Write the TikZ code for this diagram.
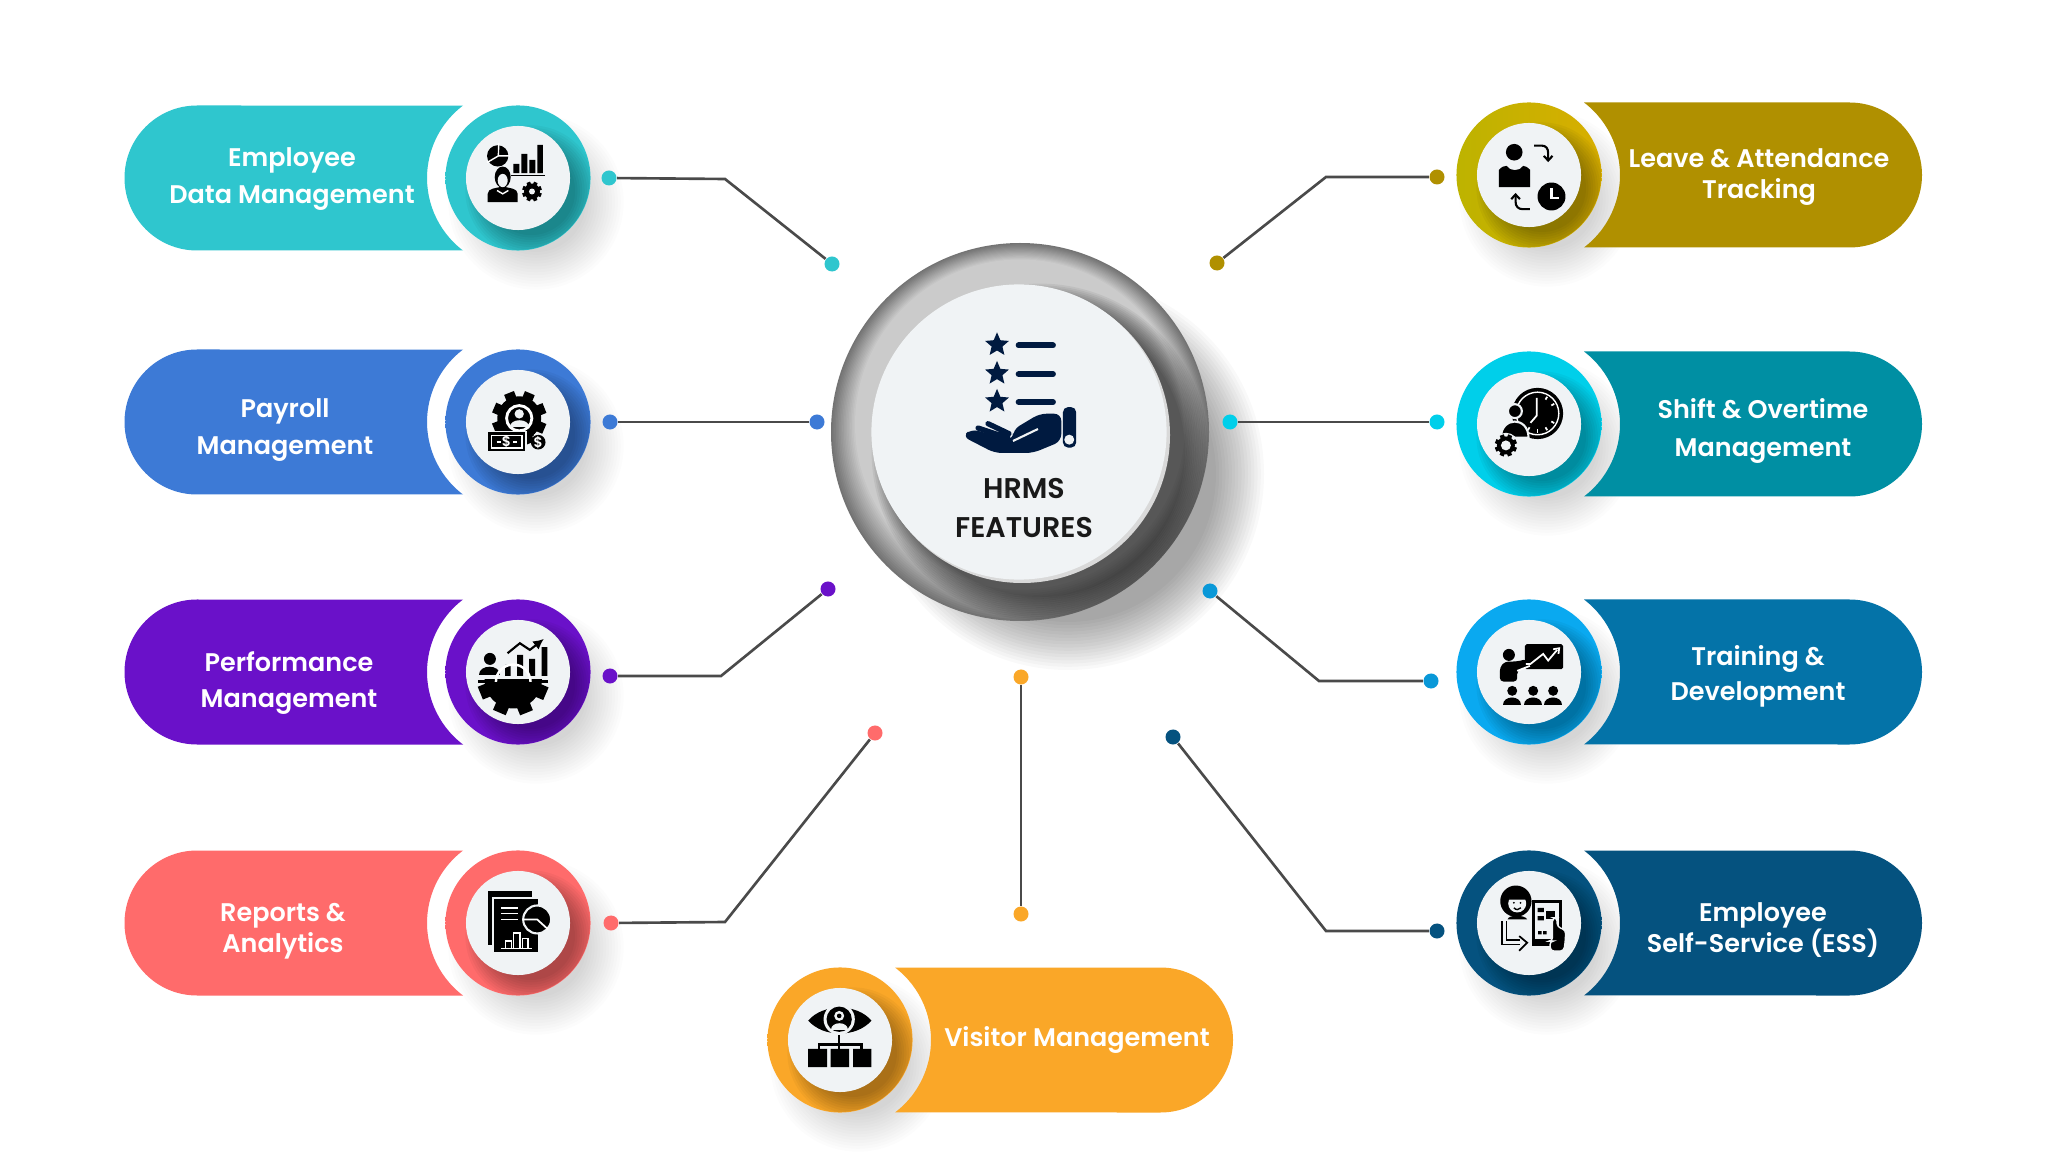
\documentclass[tikz,border=0pt]{standalone}
\usepackage{fontspec}
\setmainfont{Poppins SemiBold}
\usetikzlibrary{shapes.geometric,arrows.meta}
\definecolor{cteal}{HTML}{2FC6CE}
\definecolor{cblue}{HTML}{3D7AD6}
\definecolor{cpurple}{HTML}{6A11C9}
\definecolor{ccoral}{HTML}{FF6B6B}
\definecolor{corange}{HTML}{FAA728}
\definecolor{cgold}{HTML}{B09000}
\definecolor{cgolda}{HTML}{BDB300}
\definecolor{cgoldb}{HTML}{D8AE00}
\definecolor{cshift}{HTML}{008FA3}
\definecolor{ccyan}{HTML}{00CFEA}
\definecolor{ctrain}{HTML}{0473A8}
\definecolor{csky}{HTML}{0AA9F0}
\definecolor{cess}{HTML}{05527F}
\definecolor{cpaper}{HTML}{F0F3F5}
\definecolor{cnavy}{HTML}{001A40}
\definecolor{cwire}{HTML}{4A4A4A}
\newcommand{\gearfill}[3]{\fill (#1,#2) circle (#3);
 \foreach \a in {0,45,...,315} {\fill[rotate around={\a+22:(#1,#2)}] (#1+.9*#3,#2-.24*#3) rectangle (#1+1.24*#3,#2+.24*#3);}}
\newcommand{\person}[3]{\fill (#1,#2) circle (#3);
 \fill (#1-1.75*#3,#2+2.75*#3) .. controls (#1-1.75*#3,#2+.9*#3) and (#1+1.75*#3,#2+.9*#3) .. (#1+1.75*#3,#2+2.75*#3) -- cycle;}
\begin{document}
\begin{tikzpicture}[x=0.01cm,y=-0.01cm]
 \tikzstyle{ring}=[circle, minimum size=1.45cm, inner sep=0pt]
 \tikzstyle{disc}=[circle, fill=cpaper, minimum size=1.04cm, inner sep=0pt]
 \tikzstyle{bullet}=[circle, minimum size=0.15cm, inner sep=0pt]
 \tikzstyle{link}=[cwire, line width=0.75pt]
 \tikzstyle{caption}=[text=white, align=center, font=\fontsize{7.25}{8.8}\selectfont]
 \tikzstyle{zoomed}=[x=0.003333cm,y=-0.003333cm]
 \tikzstyle{cut}=[white, line width=0.4pt]
 %
 \fill[white] (0,0) rectangle (2048,1152);
 \useasboundingbox (0,0) rectangle (2048,1152);
 %
 % hub
 \foreach \k in {0,...,15} \fill[black, opacity=.022] (1068,474) circle ({148+\k*3.2});
 \foreach \k in {0,...,15}{
  \pgfmathsetmacro\v{55-\k*2.3}
  \fill[black!\v] (1020,432-\k*.5) circle ({189-\k*1.6});
 }
 \begin{scope}
  \clip (1020,432) circle (189);
  \foreach \k in {0,...,13} \fill[black, opacity=.055] (1040,452) circle ({145+\k*1.8});
 \end{scope}
 \fill[black!15] (1022,435) circle (148);
 \node[circle, fill=cpaper, minimum size=2.95cm, inner sep=0pt] (hub) at (1019,432) {};
 %
 % left pills
 \foreach \cx/\cy/\col in {518/178/cteal, 518/422/cblue, 518/672/cpurple, 518/923/ccoral}{
  \foreach \k in {0,...,13} \fill[black, opacity=.012] (\cx+18,\cy+24) circle ({50+\k*2.9});
  \fill[\col] (197,\cy-72.5) arc (-90:-270:72.5) -- (463,\cy+72.5) arc (127.2:232.8:91) -- cycle;
 }
 % right pills
 \foreach \cx/\cy/\rr/\col in {1529/175/1922/cgold, 1529/424/1922/cshift, 1529/672/1922/ctrain, 1529/923/1922/cess, 840/1040/1233/corange}{
  \foreach \k in {0,...,13} \fill[black, opacity=.012] (\cx+18,\cy+24) circle ({50+\k*2.9});
  \fill[\col] (\cx+55,\cy-72.5) arc (-52.8:52.8:91) -- (\rr-72.5,\cy+72.5) arc (90:-90:72.5) -- cycle;
 }
 % rings and discs
 \foreach \nm/\cx/\cy/\ca/\cb in {emp/518/178/cteal/cteal, pay/518/422/cblue/cblue, perf/518/672/cpurple/cpurple, rep/518/923/ccoral/ccoral, leave/1529/175/cgolda/cgoldb, shift/1529/424/ccyan/ccyan, train/1529/672/csky/csky, ess/1529/923/cess/cess, vis/840/1040/corange/corange}{
  \node[ring, left color=\ca, right color=\cb] (ring\nm) at (\cx,\cy) {};
  \begin{scope}
   \clip (\cx,\cy) circle (72);
   \foreach \k in {0,...,9} \fill[black, opacity=.035] (\cx+13,\cy+13) circle ({44+\k*2.4});
  \end{scope}
  \node[disc] (disc\nm) at (\cx,\cy) {};
 }
 %
 % captions
 \node[caption] (txtemp) at (292,179) {Employee\\[1.7pt]Data Management};
 \node[caption] (txtpay) at (285,430) {Payroll\\[1.7pt]Management};
 \node[caption] (txtperf) at (289,683) {Performance\\[1.7pt]Management};
 \node[caption] (txtrep) at (283,931) {Reports \&\\Analytics};
 \node[caption] (txtleave) at (1759,177) {Leave \& Attendance\\Tracking};
 \node[caption] (txtshift) at (1763,431) {Shift \& Overtime\\[1.9pt]Management};
 \node[caption] (txttrain) at (1758,676) {Training \&\\[1.2pt]Development};
 \node[caption] (txtess) at (1763,930) {Employee\\Self-Service (ESS)};
 \node[caption] (txtvis) at (1077,1040) {Visitor Management};
 \node[align=center, text=black!90, font=\fontsize{8.1}{11}\selectfont] (txthub) at (1024,508) {HRMS\\FEATURES};
 %
 % hub icon
 \begin{scope}[shift={(800,230)},zoomed]
  \foreach \nm/\yy in {a/345,b/431,c/515}{
   \node[star, star points=5, star point ratio=2.2, fill=cnavy, minimum size=0.25cm, inner sep=0pt] (hubstar\nm) at (592,\yy) {};
   \draw[cnavy, line width=1.7pt, line cap=round] (657,\yy+2) -- (760,\yy+2);
  }
  \fill[cnavy, rounded corners=1.5pt] (790,532) rectangle (830,654);
  \fill[cpaper] (809,630) circle (15);
  \fill[cnavy, rounded corners=2pt] (785,552)--(720,552)--(640,600)--(640,632)--(515,598)--(488,620)--(585,670)--(700,670)--(785,635)--cycle;
  \draw[cnavy, line width=1.5pt, line cap=round] (535,595)--(625,625) (565,582)--(628,612);
  \draw[cpaper, line width=.6pt] (640,634)--(715,598);
 \end{scope}
 %
 % employee data icon
 \begin{scope}[shift={(110,90)},zoomed]
  \fill (1165,198) circle (32);
  \draw[cut] (1167,198)--(1168,160) (1167,198)--(1202,198) (1167,198)--(1133,218);
  \fill (1212,222) rectangle (1230,250) (1236,192) rectangle (1254,250) (1260,210) rectangle (1278,250) (1284,165) rectangle (1301,250);
  \fill (1205,255) rectangle (1307,259);
  \fill (1135,337)--(1135,312) .. controls (1135,295) and (1160,295) .. (1180,290) .. controls (1200,295) and (1225,295) .. (1225,312) -- (1225,337) -- cycle;
  \fill (1180,262) ellipse (24 and 32);
  \fill[cpaper] (1180,272) ellipse (15 and 20);
  \draw[cut] (1163,302)--(1180,312)--(1197,302);
  \gearfill{1268}{305}{24}
  \fill[cpaper] (1268,305) circle (9);
 \end{scope}
 %
 % payroll icon
 \begin{scope}[shift={(450,350)},zoomed]
  \gearfill{208}{205}{66}
  \draw[cut, line width=.8pt] (208,205) circle (38);
  \fill[cpaper] (208,192) circle (14);
  \fill[cpaper] (180,232) .. controls (180,205) and (236,205) .. (236,232) -- cycle;
  \fill[draw=cpaper, line width=.5pt] (113,245) rectangle (228,307);
  \draw[cut] (125,257) rectangle (216,295);
  \draw[cut, line width=.6pt] (140,276)--(152,276) (190,276)--(202,276);
  \node[text=white, inner sep=0pt, font=\fontsize{4}{4}\selectfont] (paydollar) at (170,276) {\$};
  \fill (265,277) circle (22);
  \node[text=white, inner sep=0pt, font=\fontsize{4}{4}\selectfont] (paycoin) at (265,277) {\$};
  \draw[line width=.6pt] (238,243)--(250,258);
 \end{scope}
 %
 % performance icon
 \begin{scope}[shift={(440,590)},zoomed]
  \person{150}{207}{18}
  \fill (196,225) rectangle (212,258) (232,195) rectangle (250,258) (268,207) rectangle (286,258) (305,172) rectangle (323,258);
  \draw[line width=.6pt, -{Latex[length=3pt,width=3pt]}] (203,190)--(240,160)--(270,180)--(312,147);
  \begin{scope}
   \clip (100,270) rectangle (340,390);
   \gearfill{220}{270}{86}
  \end{scope}
  \fill (115,270) rectangle (325,280);
  \draw[cut, line width=.7pt] (168,276) arc (180:0:52 and -52);
 \end{scope}
 %
 % reports icon
 \begin{scope}[shift={(440,590)},zoomed]
  \fill (145,905) rectangle (277,1068);
  \fill[draw=cpaper, line width=.6pt] (160,925) rectangle (297,1092);
  \draw[cut, line width=.5pt] (183,955)--(235,955) (183,972)--(235,972) (183,990)--(235,990);
  \fill[draw=cpaper, line width=.6pt] (292,990) circle (42);
  \draw[cut, line width=.5pt] (250,990)--(292,990)--(325,1020);
  \draw[cut, line width=.4pt] (183,1077)--(277,1077) (197,1077)--(197,1055)--(215,1055)--(215,1077) (221,1077)--(221,1031)--(240,1031)--(240,1077) (247,1077)--(247,1048)--(265,1048)--(265,1077);
 \end{scope}
 %
 % leave icon
 \begin{scope}[shift={(1440,90)},zoomed]
  \fill (223,187) circle (25);
  \fill (177,292)--(177,240) .. controls (185,230) and (195,228) .. (200,228) .. controls (210,245) and (240,245) .. (250,228) .. controls (255,228) and (265,232) .. (271,240) -- (271,292) -- cycle;
  \draw[line width=.6pt] (283,167) -- (305,167) .. controls (318,167) and (325,175) .. (325,190) -- (325,212);
  \draw[line width=.6pt] (312,198)--(325,212)--(338,198);
  \draw[line width=.6pt] (270,358) -- (248,358) .. controls (235,358) and (227,350) .. (227,335) -- (227,314);
  \draw[line width=.6pt] (214,328)--(227,314)--(240,328);
  \fill (335,320) circle (42);
  \draw[cut, line width=.7pt] (335,295)--(335,325)--(357,325);
 \end{scope}
 %
 % shift icon
 \begin{scope}[shift={(1440,90)},zoomed]
  \fill (293,972) circle (77);
  \draw[cut, line width=.4pt] (293,972) circle (64);
  \draw[cut, line width=.5pt] (291,925)--(291,978)--(272,1000);
  \foreach \a in {-60,-30,30,60,90,120} \draw[cut, line width=.5pt] (293,972) ++(\a:48) -- ++(\a:10);
  \fill[draw=cpaper, line width=.6pt] (225,965) circle (21);
  \fill[draw=cpaper, line width=.6pt] (183,1045) .. controls (183,980) and (266,980) .. (266,1045) -- cycle;
  \fill[cpaper] (198,1068) circle (38);
  \gearfill{198}{1068}{27}
  \fill[cpaper] (198,1068) circle (15);
 \end{scope}
 %
 % training icon
 \begin{scope}[shift={(1440,590)},zoomed]
  \fill (207,195) circle (18);
  \fill[rounded corners=1pt] (180,275)--(180,232)--(195,215)--(228,215)--(262,208)--(272,228)--(232,242)--(232,275)--cycle;
  \fill[rounded corners=.5pt] (255,163) rectangle (370,238);
  \draw[cut, line width=.5pt] (258,222)--(272,222)--(310,192)--(325,212)--(352,180);
  \draw[cut, line width=.5pt] (340,178)--(358,175)--(356,192);
  \draw[cut, line width=.5pt] (232,243)--(270,228);
  \person{217}{303}{15}
  \person{280}{303}{15}
  \person{340}{303}{15}
 \end{scope}
 %
 % ess icon
 \begin{scope}[shift={(1440,590)},zoomed]
  \fill (228,935) circle (47);
  \fill[cpaper] (232,942) circle (27);
  \fill (207,930) .. controls (215,905) and (250,905) .. (258,930) -- cycle;
  \fill (222,940) circle (3) (242,940) circle (3);
  \draw[line width=.4pt] (222,955) .. controls (228,962) and (238,962) .. (243,955);
  \fill (203,990) .. controls (205,975) and (255,975) .. (262,990) -- cycle;
  \fill (275,930) rectangle (368,1070);
  \fill[cpaper] (285,940) rectangle (358,1048);
  \fill (293,955) rectangle (312,968) (293,980) rectangle (312,993) (295,1025) rectangle (305,1035) (310,1025) rectangle (320,1035);
  \fill (318,965) rectangle (345,990);
  \draw[line width=.5pt] (322,965) arc (180:360:10 and -10);
  \fill[draw=cpaper, line width=.4pt, rounded corners=1pt] (338,1030)--(338,985)--(352,985)--(352,1012)--(378,1022)--(376,1060)--(372,1085)--(332,1085)--(330,1055)--(338,1055)--cycle;
  \draw[line width=.5pt] (187,995)--(187,1065)--(240,1065);
  \draw[line width=.5pt] (200,995)--(200,1052)--(240,1052);
  \draw[line width=.5pt] (238,1040)--(262,1060)--(238,1084);
 \end{scope}
 %
 % visitor icon
 \begin{scope}[shift={(750,950)},zoomed]
  \fill (175,212) .. controls (220,160) and (320,160) .. (365,212) .. controls (320,264) and (220,264) .. (175,212) -- cycle;
  \fill[cpaper] (268,208) circle (47);
  \fill (268,208) circle (38);
  \fill[cpaper] (268,198) circle (15);
  \fill (268,198) circle (7);
  \fill[cpaper] (243,240) .. controls (243,212) and (293,212) .. (293,240) -- cycle;
  \draw[line width=.6pt] (268,255)--(268,297) (207,297)--(207,284)--(335,284)--(335,297);
  \fill (175,297) rectangle (232,352) (242,297) rectangle (298,352) (310,297) rectangle (365,352);
 \end{scope}
 %
 % bullets
 \node[bullet, fill=cteal] (E1) at (609,178) {};
 \node[bullet, fill=cteal] (E2) at (832,264) {};
 \node[bullet, fill=cblue] (P1) at (610,422) {};
 \node[bullet, fill=cblue] (P2) at (817,422) {};
 \node[bullet, fill=cpurple] (M1) at (610,676) {};
 \node[bullet, fill=cpurple] (M2) at (828,589) {};
 \node[bullet, fill=ccoral] (R1) at (611,923) {};
 \node[bullet, fill=ccoral] (R2) at (875,733) {};
 \node[bullet, fill=cgold] (L1) at (1437,177) {};
 \node[bullet, fill=cgold] (L2) at (1217,263) {};
 \node[bullet, fill=ccyan] (S1) at (1437,422) {};
 \node[bullet, fill=ccyan] (S2) at (1230,422) {};
 \node[bullet, fill=csky!90!black] (T1) at (1431,681) {};
 \node[bullet, fill=csky!90!black] (T2) at (1210,591) {};
 \node[bullet, fill=cess] (A1) at (1437,931) {};
 \node[bullet, fill=cess] (A2) at (1173,737) {};
 \node[bullet, fill=corange] (V1) at (1021,914) {};
 \node[bullet, fill=corange] (V2) at (1021,677) {};
 %
 \coordinate (kE) at (725,179);
 \coordinate (kM) at (721,676);
 \coordinate (kR) at (725,922);
 \coordinate (kL) at (1326,177);
 \coordinate (kT) at (1319,681);
 \coordinate (kA) at (1326,931);
 %%
 \draw[link] (E1)--(kE)--(E2);
 \draw[link] (P1)--(P2);
 \draw[link] (M1)--(kM)--(M2);
 \draw[link] (R1)--(kR)--(R2);
 \draw[link] (L1)--(kL)--(L2);
 \draw[link] (S1)--(S2);
 \draw[link] (T1)--(kT)--(T2);
 \draw[link] (A1)--(kA)--(A2);
 \draw[link] (V1)--(V2);
\end{tikzpicture}
\end{document}
